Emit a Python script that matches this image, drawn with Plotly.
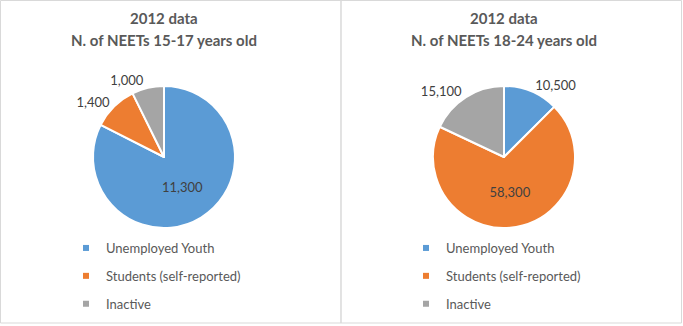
import plotly.graph_objects as go

W, H = 683, 326

categories = ["Unemployed Youth", "Students (self-reported)", "Inactive"]
values_15_17 = [11300, 1400, 1000]
values_18_24 = [10500, 58300, 15100]
title_line1 = "2012 data"
titles_line2 = ["N. of NEETs 15-17 years old", "N. of NEETs 18-24 years old"]
colors = ["#5B9BD5", "#ED7D31", "#A5A5A5"]
textpos_15_17 = ["inside", "outside", "outside"]
textpos_18_24 = ["outside", "inside", "outside"]

FONT = "Lato, 'Open Sans', sans-serif"

def px_x(p):
    return p / W

def px_y(p):
    return 1 - p / H

centers = [(164, 157), (504, 157)]
R = 71

fig = go.Figure()

for i, (vals, tpos) in enumerate([(values_15_17, textpos_15_17), (values_18_24, textpos_18_24)]):
    cx, cy = centers[i]
    fig.add_trace(go.Pie(
        labels=categories,
        values=vals,
        sort=False,
        direction="clockwise",
        rotation=0,
        marker=dict(colors=colors, line=dict(color="white", width=2)),
        textinfo="value",
        texttemplate="%{value:,}",
        textposition=tpos,
        insidetextorientation="horizontal",
        textfont=dict(family=FONT, size=13, color="#404040"),
        showlegend=False,
        domain=dict(x=[px_x(cx - R), px_x(cx + R)], y=[px_y(cy + R), px_y(cy - R)]),
        hoverinfo="label+value+percent",
    ))

# legend entries (one per category, per panel)
for i in range(2):
    for k, cat in enumerate(categories):
        fig.add_trace(go.Scatter(
            x=[None], y=[None], mode="markers", name=cat,
            marker=dict(symbol="square", size=6, color=colors[k]),
            legendgroup=f"g{i}_{k}",
            legend="legend" if i == 0 else "legend2",
            showlegend=True,
        ))

legend_common = dict(
    font=dict(family=FONT, size=13, color="#595959"),
    bgcolor="rgba(0,0,0,0)",
    tracegroupgap=8,
    itemclick=False,
    itemdoubleclick=False,
    xanchor="left",
    yanchor="top",
)

annotations = []
for i in range(2):
    cx = centers[i][0]
    annotations.append(dict(
        text=f"<b>{title_line1}</b>", x=px_x(cx), y=px_y(18), xref="paper", yref="paper",
        xanchor="center", yanchor="middle", showarrow=False,
        font=dict(family=FONT, size=15, color="#595959")))
    annotations.append(dict(
        text=f"<b>{titles_line2[i]}</b>", x=px_x(cx), y=px_y(40), xref="paper", yref="paper",
        xanchor="center", yanchor="middle", showarrow=False,
        font=dict(family=FONT, size=15, color="#595959")))

shapes = [
    dict(type="rect", xref="paper", yref="paper", x0=px_x(0.5), x1=px_x(341), y0=px_y(323), y1=px_y(0.5),
         line=dict(color="#D9D9D9", width=1)),
    dict(type="rect", xref="paper", yref="paper", x0=px_x(341), x1=px_x(681.5), y0=px_y(323), y1=px_y(0.5),
         line=dict(color="#D9D9D9", width=1)),
]

fig.update_layout(
    width=W, height=H,
    margin=dict(l=0, r=0, t=0, b=0),
    paper_bgcolor="white", plot_bgcolor="white",
    xaxis=dict(visible=False), yaxis=dict(visible=False),
    legend=dict(x=px_x(106 - 40), y=px_y(233), **legend_common),
    legend2=dict(x=px_x(446 - 40), y=px_y(233), **legend_common),
    annotations=annotations,
    shapes=shapes,
    font=dict(family=FONT),
)

fig.write_html("out.html")
